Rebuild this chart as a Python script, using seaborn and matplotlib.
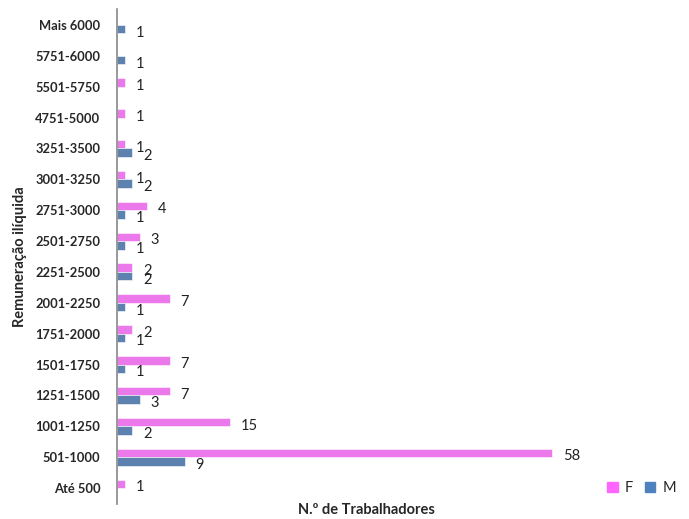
import matplotlib
matplotlib.use("Agg")
import matplotlib.pyplot as plt
import seaborn as sns
import pandas as pd
import numpy as np

categories = ["Mais 6000", "5751-6000", "5501-5750", "4751-5000", "3251-3500",
              "3001-3250", "2751-3000", "2501-2750", "2251-2500", "2001-2250",
              "1751-2000", "1501-1750", "1251-1500", "1001-1250", "501-1000",
              "Até 500"]
valores_f = [np.nan, np.nan, 1, 1, 1, 1, 4, 3, 2, 7, 2, 7, 7, 15, 58, 1]
valores_m = [1, 1, np.nan, np.nan, 2, 2, 1, 1, 2, 1, 1, 1, 3, 2, 9, np.nan]
sexos = ["F", "M"]
cores = {"F": "#FF66FF", "M": "#4F81BD"}

df = pd.concat([
    pd.DataFrame({"Remuneração": categories, "Sexo": "F", "N": valores_f}),
    pd.DataFrame({"Remuneração": categories, "Sexo": "M", "N": valores_m}),
]).dropna()

sns.set_style("white")
plt.rcParams["font.family"] = ["Lato", "DejaVu Sans"]

fig = plt.figure(figsize=(6.89, 5.19), dpi=100)
ax = fig.add_axes([117 / 689, 1 - 503.5 / 519, 498 / 689, 494 / 519])

sns.barplot(data=df, y="Remuneração", x="N", hue="Sexo", order=categories,
            hue_order=sexos, palette=cores, orient="h", width=0.55,
            edgecolor="white", linewidth=0.4, ax=ax, legend=False)

# value labels to the right of each bar
for cont in ax.containers:
    for bar in cont:
        w = bar.get_width()
        if np.isnan(w) or w == 0:
            continue
        yc = bar.get_y() + bar.get_height() / 2
        ax.annotate(f"{w:g}", (w, yc), xytext=(8, -2.5), textcoords="offset points",
                    ha="left", va="center", fontsize=10.5, color="#222222")

ax.set_xlim(0, 66.4)
ax.set_ylim(15.5, -0.5)
ax.set_xticks([])
ax.tick_params(axis="y", length=0, pad=12)
for lab in ax.get_yticklabels():
    lab.set_fontweight("bold")
    lab.set_fontsize(9.3)

for s in ["top", "right", "bottom"]:
    ax.spines[s].set_visible(False)
ax.spines["left"].set_color("#888888")
ax.spines["left"].set_linewidth(1.2)

ax.set_xlabel("N.º de Trabalhadores", fontsize=10.5, fontweight="bold", labelpad=0)
ax.set_ylabel("Remuneração ilíquida", fontsize=10.5, fontweight="bold", labelpad=6)

handles = [plt.Rectangle((0, 0), 1, 1, color=cores[s]) for s in sexos]
fig.legend(handles, sexos, loc="lower right", bbox_to_anchor=(1.0, 0.02), ncol=2,
           frameon=False, handlelength=0.7, handleheight=0.7, handletextpad=0.5,
           columnspacing=0.8, fontsize=10.5)

fig.savefig("out.png", dpi=100)
